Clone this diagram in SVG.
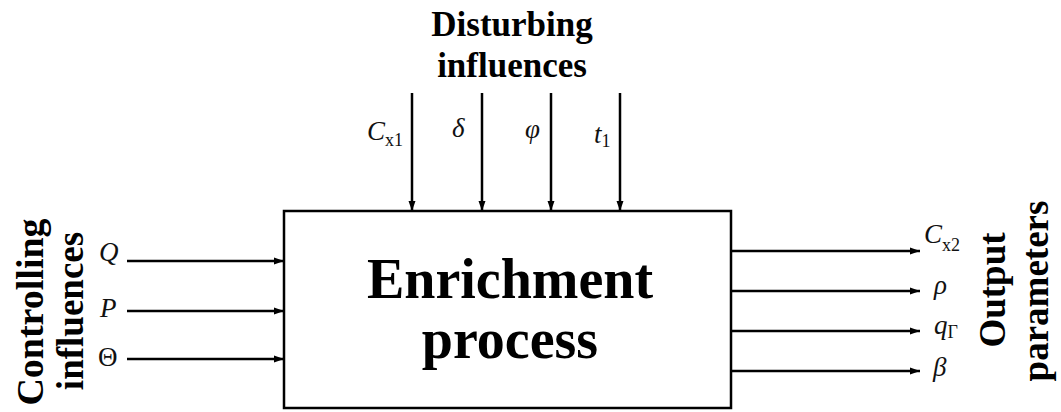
<svg xmlns="http://www.w3.org/2000/svg" width="1061" height="412" viewBox="0 0 1061 412">
<defs>
<marker id="ah" viewBox="0 0 10 10" refX="10" refY="5" markerWidth="10" markerHeight="10" markerUnits="userSpaceOnUse" orient="auto">
<path d="M0,1.5 L10,5 L0,8.5 z" fill="#000"/>
</marker>
<style>
.t{font-family:"Liberation Serif",serif;font-weight:bold;fill:#000}
.m{font-family:"Liberation Serif",serif;font-style:italic;fill:#111;font-size:27px}
.s{font-style:normal;font-size:18px}
.c{stroke:#000;stroke-width:2.5;fill:none;marker-end:url(#ah)}
</style>
</defs>
<rect width="1061" height="412" fill="#fff"/>
<g id="process">
<rect x="284" y="211" width="447" height="197" fill="#fff" stroke="#000" stroke-width="2.5"/>
<text class="t" x="510" y="298" font-size="56" text-anchor="middle">Enrichment</text>
<text class="t" x="510" y="358" font-size="56" text-anchor="middle">process</text>
</g>
<g id="disturbing">
<text class="t" x="512" y="36" font-size="35" text-anchor="middle">Disturbing</text>
<text class="t" x="512" y="77" font-size="35" text-anchor="middle">influences</text>
<text class="m" x="367" y="140">C<tspan class="s" dy="6">x1</tspan></text>
<text class="m" x="452" y="137">δ</text>
<text class="m" x="525" y="138">φ</text>
<text class="m" x="594" y="143">t<tspan class="s" dy="4">1</tspan></text>
</g>
<g id="controlling">
<text class="t" transform="translate(43,312) rotate(-90)" font-size="38" text-anchor="middle">Controlling</text>
<text class="t" transform="translate(83,311) rotate(-90)" font-size="37" text-anchor="middle">influences</text>
<text class="m" x="99" y="261">Q</text>
<text class="m" x="100" y="317">P</text>
<text class="m" x="98" y="366" style="font-style:normal">Θ</text>
</g>
<g id="output">
<text class="t" transform="translate(1005,290) rotate(-90)" font-size="37" text-anchor="middle">Output</text>
<text class="t" transform="translate(1048,291) rotate(-90)" font-size="37" text-anchor="middle">parameters</text>
<text class="m" x="924" y="243">C<tspan class="s" dy="8">x2</tspan></text>
<text class="m" x="934" y="294">ρ</text>
<text class="m" x="934" y="334">q<tspan class="s" dy="4">Γ</tspan></text>
<text class="m" x="933" y="376">β</text>
</g>
<g id="connectors">
<line class="c" x1="412" y1="93" x2="412" y2="211"/>
<line class="c" x1="482" y1="93" x2="482" y2="211"/>
<line class="c" x1="551" y1="93" x2="551" y2="211"/>
<line class="c" x1="620" y1="93" x2="620" y2="211"/>
<line class="c" x1="127" y1="261" x2="284" y2="261"/>
<line class="c" x1="127" y1="311" x2="284" y2="311"/>
<line class="c" x1="127" y1="359" x2="284" y2="359"/>
<line class="c" x1="731" y1="251" x2="920" y2="251"/>
<line class="c" x1="731" y1="291" x2="920" y2="291"/>
<line class="c" x1="731" y1="331" x2="920" y2="331"/>
<line class="c" x1="731" y1="371" x2="920" y2="371"/>
</g>
</svg>
